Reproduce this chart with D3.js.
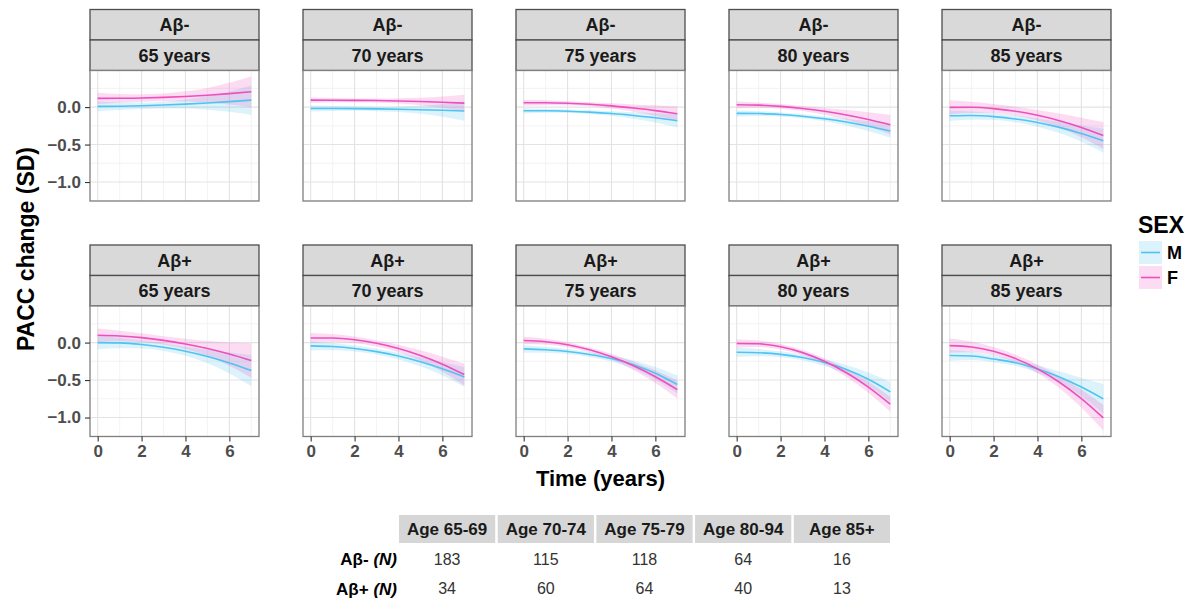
<!DOCTYPE html>
<html>
<head>
<meta charset="utf-8">
<script src="https://cdn.jsdelivr.net/npm/d3@7"></script>
<style>
  body { margin: 0; background: #fff; }
  svg { font-family: "Liberation Sans", Arial, sans-serif; }
</style>
</head>
<body>
<div id="chart"></div>
<script>
'use strict';

// time points (years) at which curves were read
var times = [0, 1, 2, 3, 4, 5, 6, 7];
var ageLabels = ['65 years', '70 years', '75 years', '80 years', '85 years'];
var amyloidLabels = ['A\u03b2-', 'A\u03b2+'];
var sexLabels = ['M', 'F'];
var xTicks = [0, 2, 4, 6];
var yTicks = [0, -0.5, -1.0];

// A-beta negative: estimates and ribbon half-widths, one row per age
var negMaleEst = [
  [0.010, 0.012, 0.018, 0.027, 0.040, 0.055, 0.073, 0.093],
  [-0.018, -0.019, -0.021, -0.024, -0.029, -0.035, -0.043, -0.053],
  [-0.049, -0.049, -0.055, -0.067, -0.086, -0.112, -0.143, -0.182],
  [-0.084, -0.086, -0.099, -0.122, -0.156, -0.200, -0.255, -0.320],
  [-0.116, -0.113, -0.127, -0.158, -0.206, -0.271, -0.352, -0.450]
];
var negMaleHalf = [
  [0.065, 0.050, 0.042, 0.045, 0.060, 0.090, 0.135, 0.195],
  [0.040, 0.032, 0.028, 0.030, 0.038, 0.055, 0.085, 0.130],
  [0.035, 0.028, 0.024, 0.024, 0.030, 0.042, 0.062, 0.090],
  [0.040, 0.032, 0.027, 0.027, 0.033, 0.045, 0.065, 0.090],
  [0.070, 0.055, 0.045, 0.045, 0.055, 0.075, 0.110, 0.160]
];
var negFemaleEst = [
  [0.116, 0.117, 0.122, 0.130, 0.142, 0.158, 0.179, 0.204],
  [0.093, 0.092, 0.090, 0.087, 0.082, 0.075, 0.065, 0.053],
  [0.058, 0.058, 0.051, 0.037, 0.016, -0.013, -0.047, -0.089],
  [0.031, 0.026, 0.009, -0.018, -0.056, -0.105, -0.165, -0.236],
  [-0.004, -0.003, -0.020, -0.055, -0.109, -0.181, -0.271, -0.380]
];
var negFemaleHalf = [
  [0.075, 0.058, 0.050, 0.052, 0.068, 0.098, 0.145, 0.205],
  [0.035, 0.028, 0.025, 0.027, 0.035, 0.050, 0.075, 0.110],
  [0.040, 0.032, 0.027, 0.027, 0.034, 0.048, 0.070, 0.100],
  [0.045, 0.036, 0.032, 0.034, 0.045, 0.065, 0.095, 0.130],
  [0.095, 0.075, 0.062, 0.060, 0.070, 0.095, 0.130, 0.180]
];

// A-beta positive
var posMaleEst = [
  [0.000, -0.004, -0.025, -0.062, -0.115, -0.185, -0.271, -0.373],
  [-0.044, -0.053, -0.079, -0.121, -0.180, -0.256, -0.349, -0.458],
  [-0.084, -0.095, -0.118, -0.158, -0.213, -0.295, -0.410, -0.560],
  [-0.129, -0.135, -0.157, -0.199, -0.267, -0.360, -0.490, -0.658],
  [-0.173, -0.179, -0.220, -0.268, -0.351, -0.459, -0.593, -0.751]
];
var posMaleHalf = [
  [0.090, 0.070, 0.055, 0.050, 0.060, 0.090, 0.140, 0.210],
  [0.060, 0.048, 0.040, 0.038, 0.045, 0.060, 0.090, 0.130],
  [0.050, 0.040, 0.034, 0.033, 0.040, 0.055, 0.085, 0.120],
  [0.060, 0.048, 0.040, 0.038, 0.045, 0.062, 0.090, 0.130],
  [0.070, 0.055, 0.045, 0.042, 0.050, 0.075, 0.120, 0.200]
];
var posFemaleEst = [
  [0.098, 0.088, 0.066, 0.030, -0.018, -0.079, -0.153, -0.240],
  [0.062, 0.061, 0.037, -0.010, -0.080, -0.173, -0.288, -0.427],
  [0.027, 0.012, -0.029, -0.097, -0.190, -0.310, -0.455, -0.627],
  [-0.013, -0.016, -0.056, -0.134, -0.250, -0.403, -0.594, -0.822],
  [-0.040, -0.058, -0.116, -0.213, -0.351, -0.529, -0.747, -1.004]
];
var posFemaleHalf = [
  [0.090, 0.070, 0.058, 0.055, 0.068, 0.100, 0.155, 0.230],
  [0.065, 0.052, 0.044, 0.042, 0.050, 0.070, 0.100, 0.145],
  [0.050, 0.040, 0.034, 0.033, 0.040, 0.055, 0.085, 0.120],
  [0.055, 0.044, 0.036, 0.034, 0.040, 0.055, 0.075, 0.100],
  [0.095, 0.072, 0.058, 0.052, 0.058, 0.080, 0.120, 0.170]
];

// sample size table
var tableHeaders = ['Age 65-69', 'Age 70-74', 'Age 75-79', 'Age 80-94', 'Age 85+'];
var tableRowLabels = ['A\u03b2-', 'A\u03b2+'];
var negCounts = [183, 115, 118, 64, 16];
var posCounts = [34, 60, 64, 40, 13];

var colors = { M: '#4fc3f2', F: '#ee4fbd' };

var W = 1199, H = 602;
var panelLeft = 90, panelStep = 213, panelW = 169;
var rowTop = [9.5, 245];
var stripH = 30.5, bodyH = 130.5;

var svg = d3.select('#chart').append('svg').attr('width', W).attr('height', H);

// build panel data
var estBySex = { M: [negMaleEst, posMaleEst], F: [negFemaleEst, posFemaleEst] };
var halfBySex = { M: [negMaleHalf, posMaleHalf], F: [negFemaleHalf, posFemaleHalf] };

var panels = [];
amyloidLabels.forEach(function (amy, r) {
  ageLabels.forEach(function (age, c) {
    var series = sexLabels.map(function (sex) {
      return {
        sex: sex,
        values: times.map(function (t, i) {
          var est = estBySex[sex][r][c][i];
          var half = halfBySex[sex][r][c][i];
          return { t: t, est: est, lo: est - half, hi: est + half };
        })
      };
    });
    panels.push({ row: r, col: c, amy: amy, age: age, series: series });
  });
});

// shared y domain, ggplot-style 5% expansion
var allLo = d3.min(panels, function (p) { return d3.min(p.series, function (s) { return d3.min(s.values, function (v) { return v.lo; }); }); });
var allHi = d3.max(panels, function (p) { return d3.max(p.series, function (s) { return d3.max(s.values, function (v) { return v.hi; }); }); });
var yPad = (allHi - allLo) * 0.05;
var xPad = (d3.max(times) - d3.min(times)) * 0.05;

var x = d3.scaleLinear().domain([d3.min(times) - xPad, d3.max(times) + xPad]).range([0, panelW]);
var y = d3.scaleLinear().domain([allLo - yPad, allHi + yPad]).range([bodyH, 0]);

var area = d3.area().curve(d3.curveMonotoneX)
  .x(function (d) { return x(d.t); })
  .y0(function (d) { return y(d.lo); })
  .y1(function (d) { return y(d.hi); });
var line = d3.line().curve(d3.curveMonotoneX)
  .x(function (d) { return x(d.t); })
  .y(function (d) { return y(d.est); });

var xMinor = [1, 3, 5, 7];
var yMinor = [0.25, -0.25, -0.75, -1.25].filter(function (v) { return v > y.domain()[0] && v < y.domain()[1]; });

var panelG = svg.selectAll('.panel').data(panels).enter().append('g')
  .attr('class', 'panel')
  .attr('transform', function (d) {
    return 'translate(' + (panelLeft + d.col * panelStep) + ',' + rowTop[d.row] + ')';
  });

// strips
panelG.each(function (d) {
  var g = d3.select(this);
  [d.amy, d.age].forEach(function (label, k) {
    g.append('rect').attr('x', 0).attr('y', k * stripH).attr('width', panelW).attr('height', stripH)
      .attr('fill', '#d9d9d9').attr('stroke', '#4d4d4d').attr('stroke-width', 1.3);
    g.append('text').attr('x', panelW / 2).attr('y', k * stripH + stripH / 2).attr('dy', '0.36em')
      .attr('text-anchor', 'middle').style('font-size', '18px').style('font-weight', 'bold')
      .style('fill', '#1a1a1a').text(label);
  });
});

var body = panelG.append('g').attr('transform', 'translate(0,' + (stripH * 2) + ')');

body.append('rect').attr('width', panelW).attr('height', bodyH).attr('fill', '#fff');

body.each(function () {
  var g = d3.select(this);
  g.selectAll('.xminor').data(xMinor).enter().append('line')
    .attr('x1', x).attr('x2', x).attr('y1', 0).attr('y2', bodyH)
    .attr('stroke', '#f0f0f0').attr('stroke-width', 0.8);
  g.selectAll('.yminor').data(yMinor).enter().append('line')
    .attr('y1', y).attr('y2', y).attr('x1', 0).attr('x2', panelW)
    .attr('stroke', '#f0f0f0').attr('stroke-width', 0.8);
  g.selectAll('.xmajor').data(xTicks).enter().append('line')
    .attr('x1', x).attr('x2', x).attr('y1', 0).attr('y2', bodyH)
    .attr('stroke', '#e3e3e3').attr('stroke-width', 1.1);
  g.selectAll('.ymajor').data(yTicks).enter().append('line')
    .attr('y1', y).attr('y2', y).attr('x1', 0).attr('x2', panelW)
    .attr('stroke', '#e3e3e3').attr('stroke-width', 1.1);
});

// ribbons first, then lines
body.each(function (d) {
  var g = d3.select(this);
  d.series.forEach(function (s) {
    g.append('path').attr('d', area(s.values)).attr('fill', colors[s.sex]).attr('fill-opacity', 0.2);
  });
  d.series.forEach(function (s) {
    g.append('path').attr('d', line(s.values)).attr('fill', 'none')
      .attr('stroke', colors[s.sex]).attr('stroke-width', 1.6);
  });
});

body.append('rect').attr('width', panelW).attr('height', bodyH)
  .attr('fill', 'none').attr('stroke', '#7f7f7f').attr('stroke-width', 1.3);

// axes
function styleAxis(sel) {
  sel.select('.domain').remove();
  sel.selectAll('.tick line').attr('stroke', '#333').attr('stroke-width', 1.1);
  sel.selectAll('.tick text').style('font-size', '17px').style('font-weight', 'bold')
    .style('fill', '#4d4d4d').style('font-family', '"Liberation Sans", Arial, sans-serif');
}

body.filter(function (d) { return d.col === 0; }).append('g')
  .call(d3.axisLeft(y).tickValues(yTicks).tickFormat(d3.format('.1f')).tickSize(5).tickPadding(4))
  .call(styleAxis);

body.filter(function (d) { return d.row === 1; }).append('g')
  .attr('transform', 'translate(0,' + bodyH + ')')
  .call(d3.axisBottom(x).tickValues(xTicks).tickFormat(d3.format('d')).tickSize(5).tickPadding(3))
  .call(styleAxis);

// axis titles
svg.append('text').attr('x', panelLeft + (panelStep * 4 + panelW) / 2).attr('y', 486)
  .attr('text-anchor', 'middle').style('font-size', '22px').style('font-weight', 'bold')
  .style('fill', '#000').text('Time (years)');

svg.append('text').attr('transform', 'translate(34,249) rotate(-90)')
  .attr('text-anchor', 'middle').style('font-size', '23px').style('font-weight', 'bold')
  .style('fill', '#000').text('PACC change (SD)');

// legend
var legend = svg.append('g').attr('transform', 'translate(1138,0)');
legend.append('text').attr('x', 0).attr('y', 233).style('font-size', '23px').style('font-weight', 'bold')
  .text('SEX');
sexLabels.forEach(function (sex, i) {
  var ky = 241 + i * 25;
  legend.append('rect').attr('x', 1).attr('y', ky).attr('width', 23).attr('height', 23)
    .attr('fill', colors[sex]).attr('fill-opacity', 0.2);
  legend.append('line').attr('x1', 3).attr('x2', 22).attr('y1', ky + 11.5).attr('y2', ky + 11.5)
    .attr('stroke', colors[sex]).attr('stroke-width', 1.6);
  legend.append('text').attr('x', 29).attr('y', ky + 11.5).attr('dy', '0.36em')
    .style('font-size', '18px').style('font-weight', 'bold').text(sex);
});

// sample size table
var cellX = d3.scaleBand().domain(tableHeaders).range([399, 890]).paddingInner(0.025);
var table = svg.append('g');
table.selectAll('.hdr').data(tableHeaders).enter().append('rect')
  .attr('x', function (d) { return cellX(d); }).attr('y', 515)
  .attr('width', cellX.bandwidth()).attr('height', 28).attr('fill', '#d6d6d6');
table.selectAll('.hdrtext').data(tableHeaders).enter().append('text')
  .attr('x', function (d) { return cellX(d) + cellX.bandwidth() / 2; }).attr('y', 529).attr('dy', '0.36em')
  .attr('text-anchor', 'middle').style('font-size', '17px').style('font-weight', 'bold')
  .style('fill', '#1a1a1a').text(function (d) { return d; });

[negCounts, posCounts].forEach(function (counts, r) {
  var ry = 559 + r * 29.5;
  var lab = table.append('text').attr('x', 397).attr('y', ry).attr('dy', '0.36em')
    .attr('text-anchor', 'end').style('font-size', '17px').style('font-weight', 'bold').style('fill', '#000');
  lab.append('tspan').text(tableRowLabels[r] + ' ');
  lab.append('tspan').style('font-style', 'italic').text('(N)');
  table.selectAll('.row' + r).data(counts).enter().append('text')
    .attr('x', function (d, i) { return cellX(tableHeaders[i]) + cellX.bandwidth() / 2; })
    .attr('y', ry).attr('dy', '0.36em').attr('text-anchor', 'middle')
    .style('font-size', '16px').style('fill', '#333').text(function (d) { return d; });
});
</script>
</body>
</html>
